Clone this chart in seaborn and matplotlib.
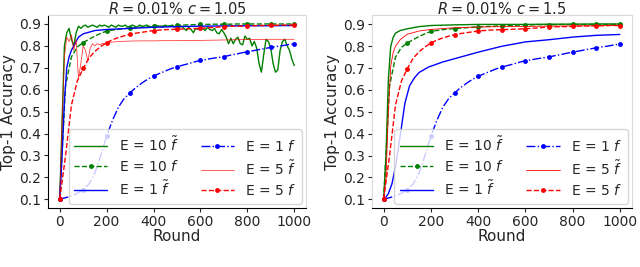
import numpy as np
import pandas as pd
import matplotlib
matplotlib.use("Agg")
import matplotlib.pyplot as plt
import seaborn as sns

sns.set_style("white")
plt.rcParams['font.family'] = ['DejaVu Sans']

# ---------------- data ----------------
# marker series (every 25 rounds, markers every 100)
rounds_25 = list(range(0, 1001, 25))
acc_E10_f = [0.10, 0.62, 0.75, 0.795, 0.815, 0.83, 0.845, 0.857, 0.868, 0.872, 0.876, 0.879,
             0.881, 0.883, 0.885, 0.887, 0.889, 0.890, 0.891, 0.892, 0.894, 0.895, 0.896, 0.897,
             0.898, 0.898, 0.899, 0.899, 0.899, 0.899, 0.900, 0.900, 0.900, 0.900, 0.900, 0.900,
             0.900, 0.900, 0.900, 0.900, 0.900]
acc_E1_f = [0.10, 0.107, 0.115, 0.127, 0.144, 0.17, 0.22, 0.30, 0.388, 0.46, 0.52, 0.56,
            0.586, 0.61, 0.63, 0.648, 0.662, 0.674, 0.685, 0.696, 0.705, 0.712, 0.719, 0.727,
            0.734, 0.738, 0.743, 0.747, 0.751, 0.757, 0.762, 0.768, 0.773, 0.778, 0.783, 0.788,
            0.793, 0.797, 0.801, 0.806, 0.81]
acc_E5_f = [0.10, 0.30, 0.53, 0.64, 0.697, 0.745, 0.775, 0.797, 0.815, 0.828, 0.838, 0.846,
            0.853, 0.858, 0.862, 0.866, 0.870, 0.872, 0.874, 0.875, 0.876, 0.877, 0.878, 0.879,
            0.880, 0.882, 0.884, 0.886, 0.888, 0.889, 0.890, 0.890, 0.891, 0.892, 0.893, 0.893,
            0.894, 0.894, 0.895, 0.895, 0.895]

# left panel (c = 1.05) tilde-f curves
rounds_10 = list(range(0, 1001, 10))
left_E10_tf = [0.10, 0.45, 0.80, 0.86, 0.88, 0.83, 0.80, 0.86, 0.89, 0.88,
               0.89, 0.895, 0.885, 0.89, 0.895, 0.89, 0.885, 0.895, 0.89, 0.895,
               0.89, 0.885, 0.895, 0.89, 0.885, 0.895, 0.89, 0.89, 0.895, 0.885,
               0.89, 0.895, 0.89, 0.885, 0.895, 0.89, 0.89, 0.895, 0.89, 0.885,
               0.89, 0.895, 0.89, 0.89, 0.885, 0.895, 0.89, 0.89, 0.895, 0.885,
               0.89, 0.885, 0.89, 0.88, 0.87, 0.885, 0.875, 0.86, 0.88, 0.875,
               0.885, 0.88, 0.87, 0.885, 0.875, 0.87, 0.88, 0.86, 0.855, 0.875,
               0.86, 0.84, 0.81, 0.835, 0.81, 0.83, 0.84, 0.81, 0.805, 0.845,
               0.83, 0.835, 0.80, 0.82, 0.79, 0.72, 0.68, 0.76, 0.83, 0.82,
               0.79, 0.72, 0.68, 0.69, 0.78, 0.82, 0.83, 0.80, 0.78, 0.74, 0.71]
left_E1_tf_rounds = [0, 10, 20, 30, 40, 50, 60, 80, 100, 150, 200, 300, 400, 500, 600, 700, 800, 900, 1000]
left_E1_tf = [0.10, 0.30, 0.55, 0.70, 0.75, 0.78, 0.80, 0.84, 0.855, 0.87, 0.875, 0.88, 0.885,
              0.888, 0.89, 0.891, 0.892, 0.892, 0.893]
left_E5_tf_rounds = [0, 10, 20, 30, 40, 50, 60, 70, 80, 90, 100, 110, 120, 130, 140, 150, 160,
                     170, 180, 190, 200, 250, 300, 350, 400, 450, 500, 550, 600, 650, 700, 750,
                     800, 850, 900, 950, 1000]
left_E5_tf = [0.10, 0.45, 0.75, 0.84, 0.82, 0.85, 0.78, 0.83, 0.65, 0.72, 0.80, 0.78, 0.73,
              0.79, 0.81, 0.80, 0.81, 0.805, 0.81, 0.81, 0.815, 0.82, 0.822, 0.823, 0.823,
              0.824, 0.824, 0.825, 0.825, 0.826, 0.827, 0.828, 0.829, 0.829, 0.83, 0.83, 0.83]

# right panel (c = 1.5) tilde-f curves
right_E10_tf_rounds = [0, 10, 20, 30, 40, 50, 70, 100, 150, 200, 300, 400, 500, 600, 700, 800, 900, 1000]
right_E10_tf = [0.10, 0.30, 0.65, 0.80, 0.84, 0.86, 0.872, 0.88, 0.89, 0.895, 0.898, 0.90,
                0.90, 0.90, 0.901, 0.901, 0.902, 0.902]
right_E5_tf_rounds = [0, 10, 20, 30, 40, 50, 70, 100, 150, 200, 300, 400, 500, 600, 700, 800, 900, 1000]
right_E5_tf = [0.10, 0.20, 0.50, 0.71, 0.77, 0.80, 0.83, 0.855, 0.87, 0.877, 0.885, 0.888,
               0.89, 0.891, 0.892, 0.893, 0.894, 0.895]
right_E1_tf_rounds = [0, 10, 20, 35, 50, 70, 90, 110, 130, 150, 190, 250, 300, 400, 500, 600,
                      700, 800, 900, 1000]
right_E1_tf = [0.10, 0.11, 0.126, 0.17, 0.248, 0.39, 0.54, 0.62, 0.655, 0.68, 0.705, 0.728,
               0.743, 0.773, 0.80, 0.82, 0.83, 0.842, 0.85, 0.854]

titles = [r"$R=0.01\%$ $c=1.05$", r"$R=0.01\%$ $c=1.5$"]
yticks = [0.1, 0.2, 0.3, 0.4, 0.5, 0.6, 0.7, 0.8, 0.9]
xticks = [0, 200, 400, 600, 800, 1000]

# ---------------- plot ----------------
fig = plt.figure(figsize=(6.4, 2.67), dpi=100)
ax1 = fig.add_axes([0.075, 0.221, 0.403, 0.722])
ax2 = fig.add_axes([0.581, 0.221, 0.406, 0.722])

panels = [
    (ax1, (rounds_10, left_E10_tf), (left_E1_tf_rounds, left_E1_tf), (left_E5_tf_rounds, left_E5_tf)),
    (ax2, (right_E10_tf_rounds, right_E10_tf), (right_E1_tf_rounds, right_E1_tf), (right_E5_tf_rounds, right_E5_tf)),
]

for i, (ax, e10, e1, e5) in enumerate(panels):
    sns.lineplot(x=e10[0], y=e10[1], ax=ax, color="green", lw=1.0, label=r"E = 10 $\tilde{f}$")
    sns.lineplot(x=rounds_25, y=acc_E10_f, ax=ax, color="green", lw=1.0, linestyle="--",
                 marker="o", markersize=3.5, markeredgewidth=0, markevery=4, label=r"E = 10 $f$")
    sns.lineplot(x=e1[0], y=e1[1], ax=ax, color="blue", lw=1.0, label=r"E = 1 $\tilde{f}$")
    sns.lineplot(x=rounds_25, y=acc_E1_f, ax=ax, color="blue", lw=1.0, linestyle="-.",
                 marker="o", markersize=3.5, markeredgewidth=0, markevery=4, label=r"E = 1 $f$")
    sns.lineplot(x=e5[0], y=e5[1], ax=ax, color="red", lw=0.6, alpha=0.75 if i == 0 else 1.0,
                 label=r"E = 5 $\tilde{f}$")
    sns.lineplot(x=rounds_25, y=acc_E5_f, ax=ax, color="red", lw=1.0, linestyle="--",
                 marker="o", markersize=3.5, markeredgewidth=0, markevery=4, label=r"E = 5 $f$")

    ax.set_title(titles[i], fontsize=10.5, pad=1)
    ax.set_xlabel("Round", fontsize=11, labelpad=0)
    ax.set_ylabel("Top-1 Accuracy", fontsize=11, labelpad=2)
    ax.set_yticks(yticks)
    ax.set_xticks(xticks)
    ax.tick_params(axis="both", labelsize=10, length=3, pad=2, left=True, bottom=True, color="0.15")
    ax.legend(ncol=2, loc="lower right", fontsize=10, frameon=True, framealpha=0.8,
              borderaxespad=0.3, handlelength=2.4, columnspacing=1.6, labelspacing=0.4,
              borderpad=0.4, handletextpad=0.8)
    for s in ["top", "right", "left", "bottom"]:
        ax.spines[s].set_color("0.85")
        ax.spines[s].set_linewidth(0.8)
    ax.spines["bottom"].set_color("black")
    if i == 0:
        ax.spines["left"].set_color("black")

fig.savefig("out.png", dpi=100)
